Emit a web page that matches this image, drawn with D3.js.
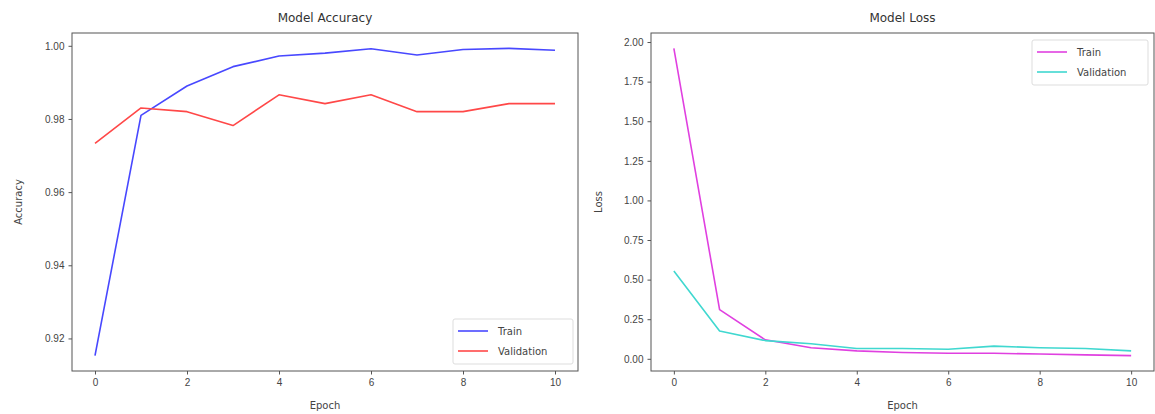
<!DOCTYPE html>
<html>
<head>
<meta charset="utf-8">
<script src="https://cdn.jsdelivr.net/npm/d3@7"></script>
<style>
  body { margin: 0; background: #fff; }
  svg { font-family: "DejaVu Sans", sans-serif; }
  .tick text { fill: #444; font-size: 10px; }
  .tick line { stroke: #555; }
  .domain { display: none; }
</style>
</head>
<body>
<div id="graph"></div>
<script>
const width = 1155;
const height = 414;

const epochs = [0, 1, 2, 3, 4, 5, 6, 7, 8, 9, 10];
const acc_train = [0.9153, 0.9810, 0.9890, 0.9943, 0.9972, 0.9980, 0.9992, 0.9975, 0.9990, 0.9993, 0.9988];
const acc_val = [0.9733, 0.9830, 0.9820, 0.9782, 0.9866, 0.9842, 0.9866, 0.9820, 0.9820, 0.9842, 0.9842];
const loss_train = [1.96, 0.31, 0.12, 0.07, 0.05, 0.04, 0.035, 0.035, 0.03, 0.025, 0.02];
const loss_val = [0.555, 0.175, 0.115, 0.095, 0.065, 0.065, 0.06, 0.08, 0.07, 0.065, 0.05];
const x_ticks = [0, 2, 4, 6, 8, 10];
const acc_ticks = [0.92, 0.94, 0.96, 0.98, 1.00];
const loss_ticks = [0, 0.25, 0.5, 0.75, 1.0, 1.25, 1.5, 1.75, 2.0];

const svg = d3.select('#graph')
  .append('svg')
  .attr('width', width)
  .attr('height', height);

// matplotlib style padded domain (5% each side)
function padded(values) {
  let lo = d3.min(values), hi = d3.max(values);
  let m = (hi - lo) * 0.05;
  return [lo - m, hi + m];
}

function draw_panel(opts) {
  const box = opts.box;
  const g = svg.append('g');

  const x = d3.scaleLinear().domain([-0.5, 10.5]).range([box.left, box.right]);
  const y = d3.scaleLinear()
    .domain(padded(opts.series[0].values.concat(opts.series[1].values)))
    .range([box.bottom, box.top]);

  g.append('g')
    .attr('transform', `translate(0, ${box.bottom})`)
    .call(d3.axisBottom(x).tickValues(x_ticks).tickFormat(d3.format('d')).tickSize(3.5).tickPadding(4));

  g.append('g')
    .attr('transform', `translate(${box.left}, 0)`)
    .call(d3.axisLeft(y).tickValues(opts.ticks).tickFormat(d3.format('.2f')).tickSize(3.5).tickPadding(4));

  const line = d3.line().x((d, i) => x(epochs[i])).y(d => y(d));

  opts.series.forEach(s => {
    g.append('path')
      .datum(s.values)
      .attr('d', line)
      .attr('fill', 'none')
      .attr('stroke', s.color)
      .attr('stroke-width', 1.6)
      .attr('stroke-linejoin', 'round');
  });

  g.append('rect')
    .attr('x', box.left).attr('y', box.top)
    .attr('width', box.right - box.left).attr('height', box.bottom - box.top)
    .attr('fill', 'none').attr('stroke', '#555').attr('stroke-width', 1);

  g.append('text')
    .attr('x', (box.left + box.right) / 2).attr('y', 22)
    .attr('text-anchor', 'middle').attr('fill', '#333').attr('font-size', 12)
    .text(opts.title);

  g.append('text')
    .attr('x', (box.left + box.right) / 2).attr('y', 409)
    .attr('text-anchor', 'middle').attr('fill', '#444').attr('font-size', 10)
    .text('Epoch');

  g.append('text')
    .attr('transform', `translate(${opts.ylabel_x}, ${(box.top + box.bottom) / 2}) rotate(-90)`)
    .attr('text-anchor', 'middle').attr('fill', '#444').attr('font-size', 10)
    .text(opts.ylabel);

  // legend
  const lg = opts.legend;
  g.append('rect')
    .attr('x', lg.x).attr('y', lg.y).attr('width', lg.w).attr('height', 45)
    .attr('rx', 2).attr('fill', '#fff').attr('fill-opacity', 0.8)
    .attr('stroke', '#ddd').attr('stroke-width', 1);
  opts.series.forEach((s, i) => {
    let yy = lg.y + 12 + i * 20;
    g.append('line')
      .attr('x1', lg.x + 5).attr('x2', lg.x + 35)
      .attr('y1', yy).attr('y2', yy)
      .attr('stroke', s.color).attr('stroke-width', 1.6);
    g.append('text')
      .attr('x', lg.x + 45).attr('y', yy + 3.5)
      .attr('fill', '#444').attr('font-size', 10)
      .text(s.name);
  });
}

draw_panel({
  title: 'Model Accuracy',
  ylabel: 'Accuracy',
  ylabel_x: 22,
  box: { left: 72, right: 578, top: 33, bottom: 371 },
  ticks: acc_ticks,
  series: [
    { name: 'Train', values: acc_train, color: '#4848ff' },
    { name: 'Validation', values: acc_val, color: '#ff4848' }
  ],
  legend: { x: 453, y: 319, w: 120 }
});

draw_panel({
  title: 'Model Loss',
  ylabel: 'Loss',
  ylabel_x: 602,
  box: { left: 651, right: 1154, top: 33, bottom: 371 },
  ticks: loss_ticks,
  series: [
    { name: 'Train', values: loss_train, color: '#e040e0' },
    { name: 'Validation', values: loss_val, color: '#40d8d0' }
  ],
  legend: { x: 1032, y: 40, w: 116 }
});
</script>
</body>
</html>
